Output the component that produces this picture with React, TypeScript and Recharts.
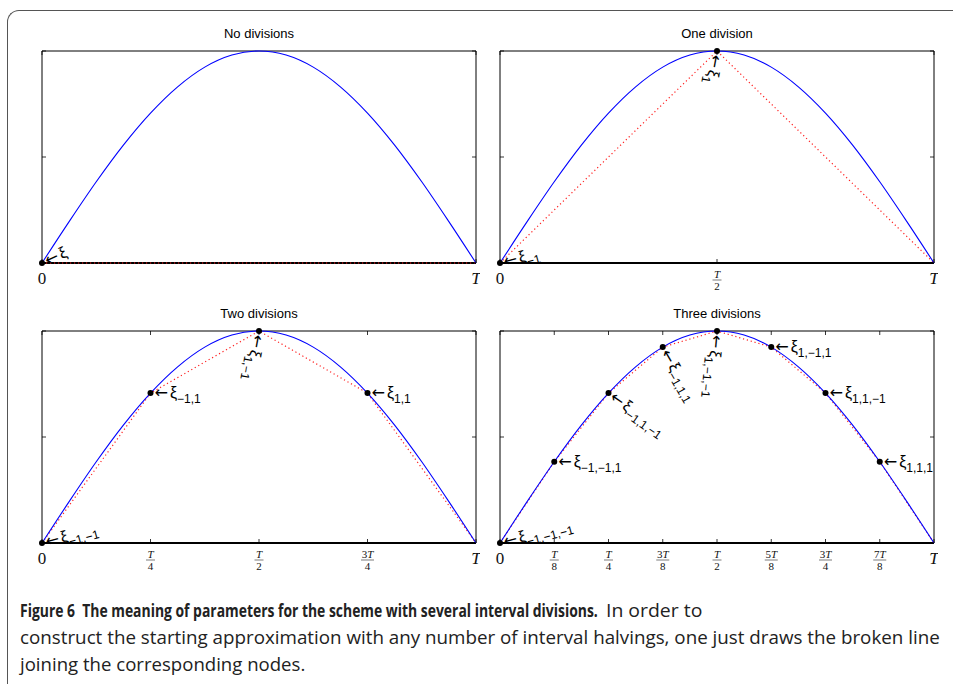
import { useLayoutEffect, useRef, useState } from 'react';
import { ComposedChart, Line, ReferenceArea, ReferenceLine, Scatter, XAxis, YAxis } from 'recharts';

const CURVE_X = [0, 0.0625, 0.125, 0.1875, 0.25, 0.3125, 0.375, 0.4375, 0.5, 0.5625, 0.625, 0.6875, 0.75, 0.8125, 0.875, 0.9375, 1];
const CURVE_Y = [0, 0.195, 0.383, 0.556, 0.707, 0.831, 0.924, 0.981, 1, 0.981, 0.924, 0.831, 0.707, 0.556, 0.383, 0.195, 0];

// broken lines joining the nodes
const NODE_X_0 = [0, 1];
const NODE_Y_0 = [0, 0];
const NODE_X_1 = [0, 0.5, 1];
const NODE_Y_1 = [0, 1, 0];
const NODE_X_2 = [0, 0.25, 0.5, 0.75, 1];
const NODE_Y_2 = [0, 0.707, 1, 0.707, 0];
const NODE_X_3 = [0, 0.125, 0.25, 0.375, 0.5, 0.625, 0.75, 0.875, 1];
const NODE_Y_3 = [0, 0.383, 0.707, 0.924, 1, 0.924, 0.707, 0.383, 0];

// subscripts of the marked nodes (all nodes except T)
const XI_0 = [''];
const XI_1 = ['−1', '1'];
const XI_2 = ['−1,−1', '−1,1', '1,−1', '1,1'];
const XI_3 = ['−1,−1,−1', '−1,−1,1', '−1,1,−1', '−1,1,1', '1,−1,−1', '1,−1,1', '1,1,−1', '1,1,1'];

const TICKS_0 = [0, 1];
const TICK_LABELS_0 = ['0', 'T'];
const TICKS_1 = [0, 0.5, 1];
const TICK_LABELS_1 = ['0', 'T/2', 'T'];
const TICKS_2 = [0, 0.25, 0.5, 0.75, 1];
const TICK_LABELS_2 = ['0', 'T/4', 'T/2', '3T/4', 'T'];
const TICKS_3 = [0, 0.125, 0.25, 0.375, 0.5, 0.625, 0.75, 0.875, 1];
const TICK_LABELS_3 = ['0', 'T/8', 'T/4', '3T/8', 'T/2', '5T/8', '3T/4', '7T/8', 'T'];

const Y_TICKS = [0, 0.5, 1];

// label rotation (deg) for each node annotation
const ANGLES_0 = [-25];
const ANGLES_1 = [-15, 100];
const ANGLES_2 = [-15, 0, 100, 0];
const ANGLES_3 = [-15, 0, 35, 60, 95, 0, 0, 0];

const W = 480;
const H = 300;
const XH = 30;
const YW = 1;
const M = { top: 51, left: 41, right: 4, bottom: 7 };
const PL = M.left + YW;
const PW = W - PL - M.right;
const PH = H - M.top - M.bottom - XH;
const SERIF = '"Liberation Serif", serif';
const SANS = '"Liberation Sans", Arial, sans-serif';

function zip(xs: number[], ys: number[]) {
  return xs.map((x, i) => ({ x, y: ys[i] }));
}

function NodeMark(props: any) {
  const { cx, cy, payload } = props;
  return (
    <g>
      <circle cx={cx} cy={cy} r={3} fill="#000" />
      <g transform={`translate(${cx},${cy}) rotate(${payload.angle})`}>
        <text x={4} y={5} fontFamily={SANS} fill="#000">
          <tspan fontSize={16} fontFamily='"DejaVu Sans", sans-serif'>←</tspan>
          <tspan fontSize={16} dx={2}>ξ</tspan>
          <tspan fontSize={12} dy={5}>{payload.sub}</tspan>
        </text>
      </g>
    </g>
  );
}

function XTick(props: any) {
  const { ticks, labels } = props;
  const x = props.payload?.coordinate ?? props.x;
  const label = labels[ticks.indexOf(props.payload?.value)] ?? '';
  const yb = M.top + PH;
  let text;
  if (label.includes('/')) {
    const [num, den] = label.split('/');
    const pre = num.slice(0, -1);
    const half = pre ? 6.5 : 4.5;
    text = (
      <g fontFamily={SERIF} fontWeight={400} fill="#111">
        <text x={x} y={yb + 14.5} textAnchor="middle" fontSize={11}>
          {pre}
          <tspan fontStyle="italic">T</tspan>
        </text>
        <line x1={x - half} x2={x + half} y1={yb + 17} y2={yb + 17} stroke="#222" strokeWidth={0.6} />
        <text x={x} y={yb + 26.5} textAnchor="middle" fontSize={11}>
          {den}
        </text>
      </g>
    );
  } else {
    text = (
      <text
        x={x}
        y={yb + 21}
        textAnchor="middle"
        fontFamily={SERIF}
        fontWeight={400}
        fontSize={17}
        fontStyle={label === 'T' ? 'italic' : 'normal'}
        fill="#111"
      >
        {label}
      </text>
    );
  }
  return (
    <g>
      <line x1={x} x2={x} y1={yb} y2={yb - 4} stroke="#000" strokeWidth={0.8} />
      <line x1={x} x2={x} y1={M.top} y2={M.top + 4} stroke="#000" strokeWidth={0.8} />
      {text}
    </g>
  );
}

function YTick(props: any) {
  const y = props.payload?.coordinate ?? props.y;
  return (
    <g>
      <line x1={PL} x2={PL + 4} y1={y} y2={y} stroke="#000" strokeWidth={0.8} />
      <line x1={PL + PW} x2={PL + PW - 4} y1={y} y2={y} stroke="#000" strokeWidth={0.8} />
    </g>
  );
}

function Panel({ left, top, title, nx, ny, subs, angles, ticks, labels }: any) {
  const curve = zip(CURVE_X, CURVE_Y);
  const nodes = zip(nx, ny);
  const dots = subs.map((sub: string, i: number) => ({ x: nx[i], y: ny[i], sub, angle: angles[i] }));
  return (
    <div style={{ position: 'absolute', left, top, width: W, height: H }}>
      <div
        style={{
          position: 'absolute',
          left: PL,
          width: PW,
          top: 26,
          textAlign: 'center',
          fontFamily: SANS,
          fontSize: 13,
          color: '#000',
        }}
      >
        {title}
      </div>
      <ComposedChart width={W} height={H} margin={M} style={{ position: 'absolute', left: 0, top: 0 }}>
        <XAxis
          type="number"
          dataKey="x"
          domain={[0, 1]}
          ticks={ticks}
          interval={0}
          height={XH}
          axisLine={false}
          tickLine={false}
          tickSize={0}
          tickMargin={0}
          tick={(p: any) => <XTick {...p} ticks={ticks} labels={labels} />}
        />
        <YAxis
          type="number"
          dataKey="y"
          domain={[0, 1]}
          ticks={Y_TICKS}
          interval={0}
          width={YW}
          axisLine={false}
          tickLine={false}
          tickSize={0}
          tickMargin={0}
          tick={(p: any) => <YTick {...p} />}
        />
        <ReferenceArea x1={0} x2={1} y1={0} y2={1} fill="none" stroke="#000" strokeWidth={1} />
        <ReferenceLine y={0} stroke="#000" strokeWidth={2} />
        <Line
          data={nodes}
          dataKey="y"
          type="linear"
          stroke="#ff2020"
          strokeWidth={1.2}
          strokeDasharray="1.2 2.8"
          dot={false}
          isAnimationActive={false}
        />
        <Line data={curve} dataKey="y" type="monotone" stroke="#0000ff" strokeWidth={1.1} dot={false} isAnimationActive={false} />
        <Scatter data={dots} shape={(p: any) => <NodeMark {...p} />} isAnimationActive={false} />
      </ComposedChart>
    </div>
  );
}

// caption text squeezed horizontally to the width it has in the figure
function FitText({ x, y, width, bold, children }: any) {
  const ref = useRef<HTMLSpanElement>(null);
  const [scale, setScale] = useState(1);
  useLayoutEffect(() => {
    const w = ref.current?.offsetWidth;
    if (w) setScale(width / w);
  }, [width]);
  return (
    <span
      ref={ref}
      style={{
        position: 'absolute',
        left: x,
        top: y,
        whiteSpace: 'pre',
        fontFamily: '"Open Sans", "Noto Sans", sans-serif',
        fontSize: 18,
        lineHeight: '22px',
        fontWeight: bold ? 700 : 400,
        color: '#222',
        transform: `scaleX(${scale})`,
        transformOrigin: '0 0',
      }}
    >
      {children}
    </span>
  );
}

export default function App() {
  return (
    <div style={{ position: 'absolute', left: 0, top: 0, width: 953, height: 684, overflow: 'hidden', background: '#fff' }}>
      <div
        style={{
          position: 'absolute',
          left: 7,
          top: 10,
          width: 1100,
          height: 900,
          borderTop: '1.5px solid #555',
          borderLeft: '1.5px solid #555',
          borderTopLeftRadius: 12,
        }}
      />
      <Panel left={0} top={0} title="No divisions" nx={NODE_X_0} ny={NODE_Y_0} subs={XI_0} angles={ANGLES_0} ticks={TICKS_0} labels={TICK_LABELS_0} />
      <Panel left={458} top={0} title="One division" nx={NODE_X_1} ny={NODE_Y_1} subs={XI_1} angles={ANGLES_1} ticks={TICKS_1} labels={TICK_LABELS_1} />
      <Panel left={0} top={280} title="Two divisions" nx={NODE_X_2} ny={NODE_Y_2} subs={XI_2} angles={ANGLES_2} ticks={TICKS_2} labels={TICK_LABELS_2} />
      <Panel left={458} top={280} title="Three divisions" nx={NODE_X_3} ny={NODE_Y_3} subs={XI_3} angles={ANGLES_3} ticks={TICKS_3} labels={TICK_LABELS_3} />
      <FitText x={20} y={599} width={578} bold>
        {'Figure 6  The meaning of parameters for the scheme with several interval divisions.'}
      </FitText>
      <FitText x={606} y={599} width={96}>
        In order to
      </FitText>
      <FitText x={20} y={626} width={920}>
        construct the starting approximation with any number of interval halvings, one just draws the broken line
      </FitText>
      <FitText x={20} y={653} width={285}>
        joining the corresponding nodes.
      </FitText>
    </div>
  );
}
